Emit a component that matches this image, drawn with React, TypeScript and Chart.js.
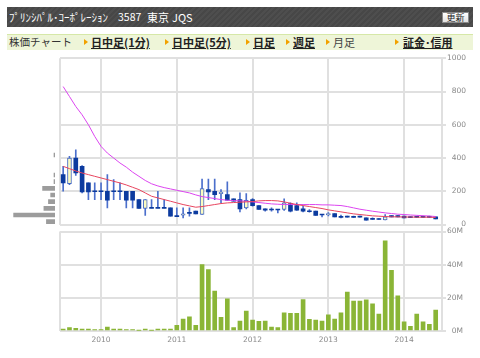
import React, { useEffect, useRef } from 'react';
import { Chart, registerables } from 'chart.js';

Chart.register(...registerables);

// ---- data ----
const months = [
  '2009/07', '2009/08', '2009/09', '2009/10', '2009/11', '2009/12',
  '2010/01', '2010/02', '2010/03', '2010/04', '2010/05', '2010/06', '2010/07', '2010/08', '2010/09', '2010/10', '2010/11', '2010/12',
  '2011/01', '2011/02', '2011/03', '2011/04', '2011/05', '2011/06', '2011/07', '2011/08', '2011/09', '2011/10', '2011/11', '2011/12',
  '2012/01', '2012/02', '2012/03', '2012/04', '2012/05', '2012/06', '2012/07', '2012/08', '2012/09', '2012/10', '2012/11', '2012/12',
  '2013/01', '2013/02', '2013/03', '2013/04', '2013/05', '2013/06', '2013/07', '2013/08', '2013/09', '2013/10', '2013/11', '2013/12',
  '2014/01', '2014/02', '2014/03', '2014/04', '2014/05', '2014/06',
];

const openP = [
  300, 246, 400, 350, 250, 200, 200, 200, 200, 200, 200, 200,
  150, 96, 100, 100, 100, 100, 50, 56, 70, 80, 60, 210,
  200, 185, 180, 154, 150, 100, 150, 114, 94, 90, 90, 90,
  126, 114, 94, 80, 80, 60, 58, 66, 46, 50, 46, 50,
  40, 34, 36, 28, 54, 54, 50, 48, 46, 46, 46, 46,
];
const highP = [
  350, 410, 450, 355, 250, 250, 250, 300, 270, 250, 200, 200,
  150, 150, 150, 200, 150, 100, 100, 100, 100, 80, 274, 274,
  274, 210, 256, 154, 190, 186, 156, 114, 94, 100, 90, 155,
  130, 130, 110, 90, 80, 60, 72, 66, 56, 50, 50, 50,
  40, 40, 36, 60, 54, 54, 50, 48, 50, 50, 50, 46,
];
const lowP = [
  200, 240, 295, 190, 150, 150, 150, 100, 150, 150, 100, 100,
  96, 54, 100, 100, 100, 50, 50, 40, 50, 64, 60, 150,
  150, 130, 146, 140, 75, 94, 110, 90, 80, 80, 70, 85,
  76, 84, 76, 74, 54, 46, 52, 46, 40, 44, 42, 44,
  26, 30, 30, 28, 46, 46, 40, 44, 42, 42, 42, 34,
];
const closeP = [
  250, 400, 310, 196, 196, 200, 200, 146, 200, 200, 146, 146,
  96, 150, 100, 100, 100, 50, 50, 64, 70, 64, 216, 196,
  180, 195, 146, 140, 94, 146, 114, 90, 86, 90, 90, 130,
  80, 86, 80, 80, 54, 60, 66, 46, 46, 44, 46, 44,
  26, 34, 30, 46, 46, 46, 40, 44, 46, 46, 46, 34,
];

const maShort = [
  350, 336, 322, 310, 300, 290, 280, 270, 260, 250, 238, 224,
  210, 190, 170, 160, 150, 140, 130, 120, 112, 104, 108, 114,
  120, 126, 130, 132, 134, 136, 138, 142, 144, 144, 142, 136,
  128, 120, 114, 108, 102, 96, 88, 82, 76, 70, 64, 60,
  56, 52, 50, 48, 46, 46, 45, 45, 44, 44, 44, 42,
];
const maLong = [
  830, 770, 710, 660, 600, 530, 470, 430, 400, 370, 345, 315,
  290, 265, 245, 232, 222, 214, 206, 198, 190, 178, 168, 162,
  156, 150, 146, 144, 142, 140, 136, 132, 128, 124, 122, 120,
  120, 120, 120, 120, 120, 118, 118, 116, 114, 108, 100, 92,
  86, 80, 75, 70, 66, 62, 60, 57, 55, 53, 51, 48,
];

const volumeM = [
  1.2, 2, 1.6, 1.2, 1.2, 0.8, 0.8, 2.4, 1.2, 1.2, 0.8, 0.8,
  0.4, 1.2, 0.4, 1.2, 1.2, 1.2, 3.4, 7.2, 8.6, 3.4, 40, 37,
  24, 8.2, 19.4, 2, 6, 12, 6.6, 5.8, 6, 2.4, 2, 11,
  10.6, 10.6, 19, 7, 6.6, 6, 9.8, 7.2, 11, 23.4, 18, 18,
  18.8, 16.4, 10.2, 54.4, 36.6, 21.2, 5.6, 2.8, 10.2, 5.6, 4, 12.6,
];

// volume by price (left profile)
const profilePrice = [20, 60, 100, 140, 180, 220, 260, 300, 420];
const profileVol = [8.5, 41, 11, 6.5, 4.3, 12.3, 1, 1, 1];

const priceTicks = [0, 200, 400, 600, 800, 1000];
const volumeTicks = [0, 20, 40, 60];

// ---- styles ----
const GRID = '#e0e0e0';
const GRID_W = 2;
const LABEL = '#8a8a8a';
const AXIS_FONT = { family: 'DejaVu Sans', size: 7.5 };

const yearTickIdx = months.map((m, i) => (m.endsWith('/01') ? i : -1)).filter((i) => i >= 0);
const xTickValues = [-0.5, ...yearTickIdx];
const xLabel = (v: number) => {
  const i = months.findIndex((_, k) => k === v);
  return i >= 0 && months[i].endsWith('/01') ? months[i].slice(0, 4) : '';
};

function PriceChart() {
  const ref = useRef<HTMLCanvasElement>(null);
  useEffect(() => {
    const isUp = closeP.map((c, i) => c - openP[i] > 5);
    const bodies = openP.map((o, i) => {
      const c = closeP[i];
      const lo = Math.min(o, c);
      const hi = Math.max(o, c);
      return { x: i, y: hi - lo < 6 ? [c - 3, c + 3] : [lo, hi] };
    });
    const wicks = openP.map((_, i) => ({ x: i, y: [lowP[i], highP[i]] }));
    const chart = new Chart(ref.current!, {
      type: 'bar',
      data: {
        datasets: [
          {
            type: 'line',
            data: maShort.map((v, i) => ({ x: i, y: v })),
            borderColor: '#e8455f',
            borderWidth: 1,
            pointRadius: 0,
            order: 0,
          } as any,
          {
            type: 'line',
            data: maLong.map((v, i) => ({ x: i, y: v })),
            borderColor: '#dc45f0',
            borderWidth: 1,
            pointRadius: 0,
            order: 0,
          } as any,
          {
            type: 'bar',
            data: bodies,
            barThickness: 4,
            grouped: false,
            backgroundColor: isUp.map((u) => (u ? '#fbfbc2' : '#0c3b9f')),
            borderColor: isUp.map((u) => (u ? '#4569c4' : '#0c3b9f')),
            borderWidth: isUp.map((u) => (u ? 1 : 0)),
            borderSkipped: false,
            order: 1,
          } as any,
          {
            type: 'bar',
            data: wicks,
            barThickness: 1,
            grouped: false,
            backgroundColor: '#4b6fcc',
            borderWidth: 0,
            order: 2,
          } as any,
        ],
      },
      options: {
        animation: false,
        responsive: false,
        maintainAspectRatio: false,
        events: [],
        layout: { padding: { left: 60, right: 14, top: 8.3, bottom: 5 } },
        plugins: { legend: { display: false }, tooltip: { enabled: false } },
        scales: {
          x: {
            type: 'linear',
            min: -0.5,
            max: 60,
            offset: false,
            afterBuildTicks: (ax: any) => {
              ax.ticks = xTickValues.map((v) => ({ value: v }));
            },
            afterFit: (ax: any) => {
              ax.height = 0;
            },
            ticks: { display: false },
            grid: { color: GRID, lineWidth: GRID_W, drawTicks: false, offset: false },
            border: { display: false },
          },
          y: {
            type: 'linear',
            position: 'right',
            min: 0,
            max: 1000,
            afterBuildTicks: (ax: any) => {
              ax.ticks = priceTicks.map((v) => ({ value: v }));
            },
            afterFit: (ax: any) => {
              ax.width = 24;
            },
            ticks: {
              crossAlign: 'far',
              padding: 1,
              color: LABEL,
              font: AXIS_FONT,
              callback: (v: any) => String(v),
            },
            grid: { color: GRID, lineWidth: GRID_W, tickLength: 4 },
            border: { display: true, color: GRID, width: GRID_W },
          },
        },
      } as any,
    });
    return () => chart.destroy();
  }, []);
  return (
    <canvas
      ref={ref}
      width={480}
      height={180}
      style={{ position: 'absolute', left: 0, top: 50, width: 480, height: 180 }}
    />
  );
}

function VolumeChart() {
  const ref = useRef<HTMLCanvasElement>(null);
  useEffect(() => {
    const chart = new Chart(ref.current!, {
      type: 'bar',
      data: {
        datasets: [
          {
            data: volumeM.map((v, i) => ({ x: i, y: v })),
            barThickness: 4,
            backgroundColor: '#8ab536',
            borderWidth: 0,
          },
        ],
      },
      options: {
        animation: false,
        responsive: false,
        maintainAspectRatio: false,
        events: [],
        layout: { padding: { left: 60, right: 17, top: 5, bottom: 0 } },
        plugins: { legend: { display: false }, tooltip: { enabled: false } },
        scales: {
          x: {
            type: 'linear',
            min: -0.5,
            max: 60,
            offset: false,
            afterBuildTicks: (ax: any) => {
              ax.ticks = xTickValues.map((v) => ({ value: v }));
            },
            afterFit: (ax: any) => {
              ax.height = 27;
            },
            ticks: {
              padding: 5,
              color: LABEL,
              font: AXIS_FONT,
              maxRotation: 0,
              autoSkip: false,
              callback: (v: any) => xLabel(Number(v)),
            },
            grid: { color: GRID, lineWidth: GRID_W, drawTicks: false, offset: false },
            border: { display: false },
          },
          y: {
            type: 'linear',
            position: 'right',
            min: 0,
            max: 60,
            afterBuildTicks: (ax: any) => {
              ax.ticks = volumeTicks.map((v) => ({ value: v }));
            },
            afterFit: (ax: any) => {
              ax.width = 21;
            },
            ticks: {
              crossAlign: 'far',
              padding: 1,
              color: LABEL,
              font: AXIS_FONT,
              callback: (v: any) => `${v}M`,
            },
            grid: { color: GRID, lineWidth: GRID_W, tickLength: 4 },
            border: { display: true, color: GRID, width: GRID_W },
          },
        },
      } as any,
    });
    return () => chart.destroy();
  }, []);
  return (
    <canvas
      ref={ref}
      width={480}
      height={132}
      style={{ position: 'absolute', left: 0, top: 226, width: 480, height: 132 }}
    />
  );
}

function ProfileChart() {
  const ref = useRef<HTMLCanvasElement>(null);
  useEffect(() => {
    const chart = new Chart(ref.current!, {
      type: 'bar',
      data: {
        datasets: [
          {
            data: profileVol.map((v, i) => ({ x: v, y: profilePrice[i] })),
            barThickness: 4,
            backgroundColor: '#9c9c9c',
            borderWidth: 0,
          },
        ],
      },
      options: {
        indexAxis: 'y',
        animation: false,
        responsive: false,
        maintainAspectRatio: false,
        events: [],
        layout: { padding: { left: 0, right: 0, top: 8.3, bottom: 5 } },
        plugins: { legend: { display: false }, tooltip: { enabled: false } },
        scales: {
          x: { type: 'linear', reverse: true, min: 0, max: 54.5, display: false },
          y: { type: 'linear', min: 0, max: 1000, offset: false, display: false },
        },
      } as any,
    });
    return () => chart.destroy();
  }, []);
  return (
    <canvas
      ref={ref}
      width={55}
      height={180}
      style={{ position: 'absolute', left: 0, top: 50, width: 55, height: 180 }}
    />
  );
}

const JP = '"Noto Sans CJK JP", sans-serif';

const tabs = [
  { text: '日中足(1分)', mark: 84, x: 91, active: true },
  { text: '日中足(5分)', mark: 165, x: 172, active: true },
  { text: '日足', mark: 246, x: 253, active: true },
  { text: '週足', mark: 286, x: 293, active: true },
  { text: '月足', mark: 326, x: 333, active: false },
  { text: '証金･信用', mark: 395, x: 403, active: true },
];

export default function App() {
  useEffect(() => {
    document.body.style.margin = '0';
  }, []);
  return (
    <div
      style={{
        position: 'fixed',
        left: 0,
        top: 0,
        width: 480,
        height: 358,
        background: '#ffffff',
        overflow: 'hidden',
        fontFamily: JP,
      }}
    >
      {/* header */}
      <div
        style={{
          position: 'absolute',
          left: 7,
          top: 7,
          width: 466,
          height: 20,
          background: 'repeating-linear-gradient(135deg, #4e4e4e 0px, #4e4e4e 2px, #474747 2px, #474747 4px)',
        }}
      />
      <div style={{ position: 'absolute', left: 9, top: 7, height: 20, lineHeight: '20px', color: '#fff', fontSize: 11, whiteSpace: 'nowrap' }}>
        ﾌﾟﾘﾝｼﾊﾟﾙ･ｺｰﾎﾟﾚｰｼｮﾝ
      </div>
      <div style={{ position: 'absolute', left: 118, top: 7, height: 20, lineHeight: '20px', color: '#fff', fontSize: 10.5, whiteSpace: 'nowrap' }}>
        3587
      </div>
      <div style={{ position: 'absolute', left: 147, top: 7, height: 20, lineHeight: '20px', color: '#fff', fontSize: 11, whiteSpace: 'nowrap' }}>
        東京
      </div>
      <div style={{ position: 'absolute', left: 172, top: 7, height: 20, lineHeight: '20px', color: '#fff', fontSize: 11, whiteSpace: 'nowrap' }}>
        JQS
      </div>
      <div
        style={{
          position: 'absolute',
          left: 442,
          top: 12,
          width: 25,
          height: 9,
          border: '1px solid #8a8a8a',
          background: 'linear-gradient(#ffffff, #e2e2e2)',
          color: '#222',
          fontSize: 9,
          lineHeight: '9px',
          textAlign: 'center',
          whiteSpace: 'nowrap',
        }}
      >
        更新
      </div>

      {/* tab row */}
      <div
        style={{
          position: 'absolute',
          left: 7,
          top: 34,
          width: 466,
          height: 15,
          background: '#eef5d8',
          borderTop: '1px solid #d6e8a8',
        }}
      />
      <div style={{ position: 'absolute', left: 9, top: 34, height: 16, lineHeight: '16px', fontSize: 10.5, color: '#333', whiteSpace: 'nowrap' }}>
        株価チャート
      </div>
      {tabs.map((t) => (
        <React.Fragment key={t.text}>
          <div
            style={{
              position: 'absolute',
              left: t.mark,
              top: 39,
              width: 0,
              height: 0,
              borderTop: '3px solid transparent',
              borderBottom: '3px solid transparent',
              borderLeft: '4px solid #f2a100',
            }}
          />
          <div
            style={{
              position: 'absolute',
              left: t.x,
              top: 34,
              height: 16,
              lineHeight: '16px',
              fontSize: 11,
              fontWeight: t.active ? 700 : 400,
              textDecoration: t.active ? 'underline' : 'none',
              color: t.active ? '#222' : '#444',
              whiteSpace: 'nowrap',
            }}
          >
            {t.text}
          </div>
        </React.Fragment>
      ))}

      <ProfileChart />
      <PriceChart />
      <VolumeChart />
      {/* right border between panels */}
      <div style={{ position: 'absolute', left: 441, top: 225, width: 2, height: 6, background: GRID }} />
    </div>
  );
}
